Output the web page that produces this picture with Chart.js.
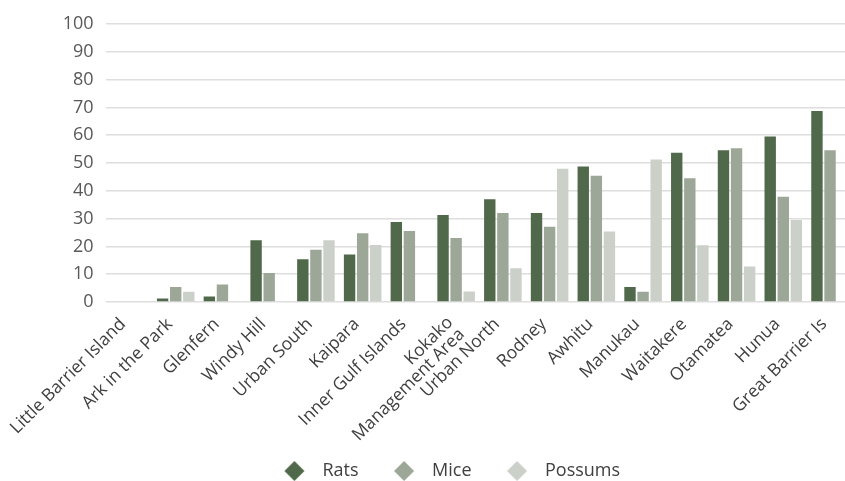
<!DOCTYPE html>
<html>
<head>
<meta charset="utf-8">
<script src="https://cdn.jsdelivr.net/npm/chart.js@4"></script>
<style>
  html, body { margin: 0; padding: 0; background: #fff; }
  .wrap { width: 845px; height: 481px; overflow: hidden; }
</style>
</head>
<body>
<div class="wrap"><canvas id="pestChart" width="889" height="490"></canvas></div>
<script>
let areas = ["Little Barrier Island", "Ark in the Park", "Glenfern", "Windy Hill", "Urban South", "Kaipara",
  "Inner Gulf Islands", ["Kokako", "Management Area"], "Urban North", "Rodney", "Awhitu", "Manukau",
  "Waitakere", "Otamatea", "Hunua", "Great Barrier Is"];
let rats = [0, 1.3, 2.0, 22.2, 15.4, 17.1, 28.8, 31.3, 37.0, 32.0, 48.7, 5.4, 53.7, 54.6, 59.5, 68.7];
let mice = [0, 5.4, 6.3, 10.4, 18.8, 24.7, 25.5, 23.0, 32.0, 27.1, 45.4, 3.7, 44.5, 55.3, 37.9, 54.6];
let possums = [0, 3.7, 0, 0, 22.2, 20.5, 0, 3.8, 12.1, 47.9, 25.4, 51.3, 20.4, 12.8, 29.5, 0];
let yTicks = [0, 10, 20, 30, 40, 50, 60, 70, 80, 90, 100];

let colors = { rats: "#51694b", mice: "#9ca797", possums: "#cbd0c9" };

// legend key: diamond placed right of the image centre, so it sits close to its text
function diamond(color) {
  let c = document.createElement("canvas");
  c.width = 38; c.height = 20;
  let g = c.getContext("2d");
  let cx = 27.25, cy = 10, r = 10;
  g.fillStyle = color;
  g.beginPath();
  g.moveTo(cx - r, cy); g.lineTo(cx, cy - r); g.lineTo(cx + r, cy); g.lineTo(cx, cy + r);
  g.closePath();
  g.fill();
  return c;
}

Chart.defaults.font.family = "'Open Sans', sans-serif";
Chart.defaults.color = "#404040";

new Chart(document.getElementById("pestChart"), {
  type: "bar",
  data: {
    labels: areas,
    datasets: [
      { label: "Rats", data: rats, backgroundColor: colors.rats, pointStyle: diamond(colors.rats) },
      { label: "Mice", data: mice, backgroundColor: colors.mice, pointStyle: diamond(colors.mice) },
      { label: "Possums", data: possums, backgroundColor: colors.possums, pointStyle: diamond(colors.possums) }
    ]
  },
  options: {
    responsive: false,
    animation: false,
    categoryPercentage: 0.84,
    barPercentage: 0.87,
    layout: { padding: { top: 24, left: 25.6, right: 35.6, bottom: 0 } },
    plugins: {
      tooltip: { enabled: false },
      legend: {
        position: "bottom",
        labels: {
          usePointStyle: true,
          pointStyleWidth: 54.5,
          boxHeight: 18,
          padding: 10,
          color: "#404040",
          font: { size: 18 }
        }
      }
    },
    scales: {
      x: {
        grid: { display: false },
        border: { display: false },
        ticks: {
          maxRotation: 45,
          minRotation: 45,
          autoSkip: false,
          padding: 4,
          labelOffset: -6,
          color: "#404040",
          // the two-line label uses tighter line spacing
          font: (c) => c.index === 7 ? { size: 17.5, lineHeight: 0.95 } : { size: 17.5 }
        },
        afterFit: (s) => { s.height = 150; }
      },
      y: {
        min: 0,
        max: 100,
        afterBuildTicks: (s) => { s.ticks = yTicks.map(v => ({ value: v })); },
        grid: { color: "#dedede", lineWidth: 1.5, drawTicks: false },
        border: { display: false },
        ticks: { padding: 12, color: "#595959", font: { size: 18 } },
        afterFit: (s) => { s.width = 80; }
      }
    }
  }
});
</script>
</body>
</html>
